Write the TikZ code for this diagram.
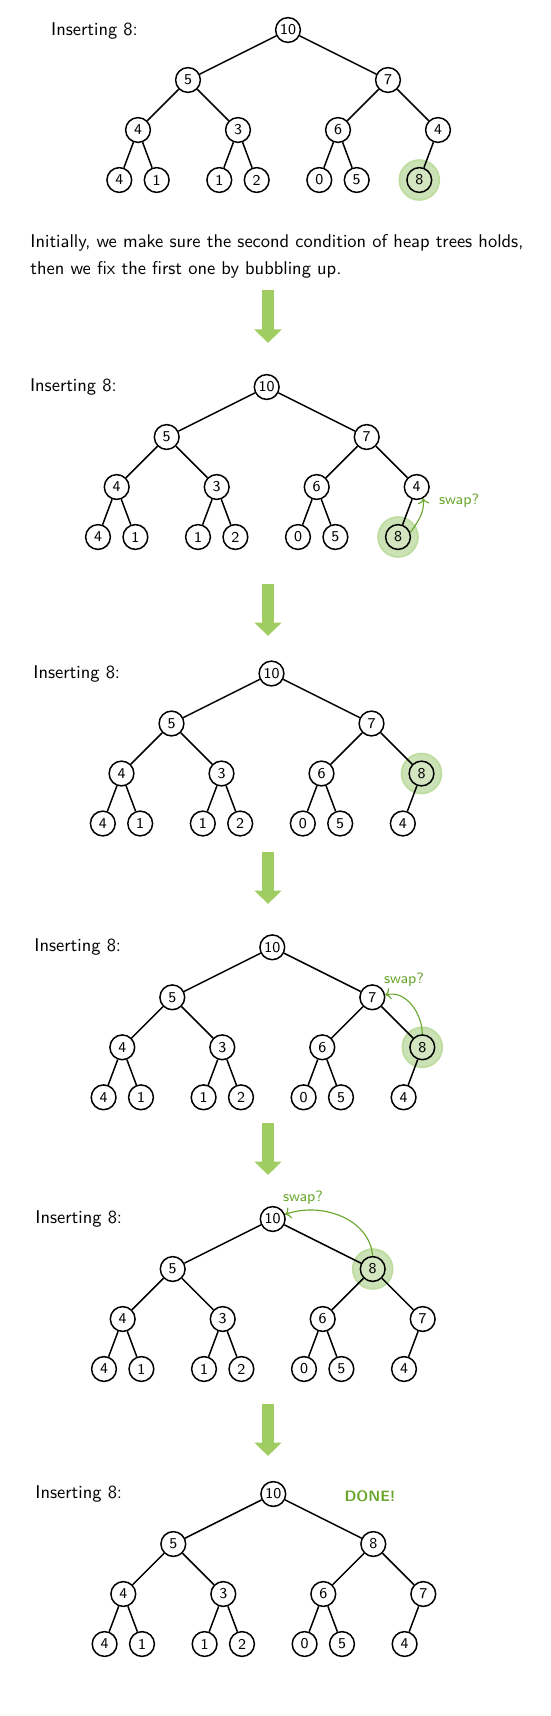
\documentclass[tikz,border=0pt]{standalone}
\usetikzlibrary{arrows.meta}

\definecolor{arrowgreen}{RGB}{160,205,98}
\definecolor{swapgreen}{RGB}{104,166,44}
\definecolor{glowgreen}{RGB}{203,226,182}
\definecolor{hotgreen}{RGB}{212,229,193}

% one heap tree: name, root x, root y, the 14 keys, highlighted index
\newcommand{\heaptree}[5]{%
  \foreach \v [count=\k] in {#4}{
    \pgfmathsetmacro\dx{{0,-100,100,-150,-50,50,150,-168.7,-131.3,-68.7,-31.3,31.3,68.7,131.3}[\k-1]}
    \pgfmathsetmacro\dy{{0,50,50,100,100,100,100,150,150,150,150,150,150,150}[\k-1]}
    \ifnum\k=#5
      \filldraw[fill=glowgreen, draw=glowgreen!75!arrowgreen, line width=1pt] (#2+\dx,#3-\dy) circle (10.6pt);
      \node[key, fill=hotgreen] (#1\k) at (#2+\dx,#3-\dy) {\v};
    \else
      \node[key] (#1\k) at (#2+\dx,#3-\dy) {\v};
    \fi
  }
  \foreach \k in {2,...,14}{
    \pgfmathtruncatemacro\up{\k/2}
    \draw[thick] (#1\up) -- (#1\k);
  }
}

\begin{document}
\begin{tikzpicture}[x=0.533pt, y=0.533pt, font=\sffamily\fontsize{9.85}{12}\selectfont,
    key/.style={circle, draw, thick, fill=white, minimum size=13.2pt, inner sep=0pt, font=\sffamily\footnotesize},
    title/.style={anchor=west},
    swaparrow/.style={->, semithick, swapgreen},
    swaptext/.style={swapgreen, font=\sffamily\footnotesize},
    bigarrow/.style={arrowgreen, line width=6.6pt, -{Triangle[width=14pt, length=7.2pt]}}]
  \useasboundingbox (0,0) rectangle (550,-1716);

  % step 1
  \node[title] (t1) at (44.5,-30.5) {Inserting 8:};
  \heaptree{a}{288}{-30}{10,5,7,4,3,6,4,4,1,1,2,0,5,8}{14}
  \node[anchor=west] (txt1) at (23.8,-243) {Initially, we make sure the second condition of heap trees holds,};
  \node[anchor=west] (txt2) at (23.8,-269.5) {then we fix the first one by bubbling up.};

  % step 2
  \node[title] (t2) at (23.4,-387) {Inserting 8:};
  \heaptree{b}{266.7}{-387}{10,5,7,4,3,6,4,4,1,1,2,0,5,8}{14}
  \draw[swaparrow] (b14.20) to[out=55, in=-85] (b7.-60);
  \node[swaptext, anchor=west] (s2) at (432.5,-501) {swap?};

  % step 3
  \node[title] (t3) at (26.8,-673.5) {Inserting 8:};
  \heaptree{c}{271.5}{-673.5}{10,5,7,4,3,6,8,4,1,1,2,0,5,4}{7}

  % step 4
  \node[title] (t4) at (27.8,-947.3) {Inserting 8:};
  \heaptree{d}{272.3}{-947.3}{10,5,7,4,3,6,8,4,1,1,2,0,5,4}{7}
  \draw[swaparrow] (d7.north) to[out=90, in=15] (d3.10);
  \node[swaptext] (s4) at (404,-980) {swap?};

  % step 5
  \node[title] (t5) at (28.8,-1219) {Inserting 8:};
  \heaptree{e}{272.7}{-1219}{10,5,8,4,3,6,7,4,1,1,2,0,5,4}{3}
  \draw[swaparrow] (e3.north) to[out=95, in=20] (e1.20);
  \node[swaptext] (s5) at (303,-1198) {swap?};

  % step 6
  \node[title] (t6) at (28.8,-1494) {Inserting 8:};
  \heaptree{f}{273.3}{-1494}{10,5,8,4,3,6,7,4,1,1,2,0,5,4}{0}
  \node[swaptext, font=\sffamily\footnotesize\bfseries] (done) at (370,-1496) {DONE!};

  % arrows between the steps
  \foreach \top/\bot [count=\i] in {290/343, 584/636, 852/904, 1123/1175, 1404/1456}{
    \coordinate (from\i) at (268,-\top);
    \coordinate (to\i) at (268,-\bot);
    \draw[bigarrow] (from\i) -- (to\i);
  }
\end{tikzpicture}
\end{document}
